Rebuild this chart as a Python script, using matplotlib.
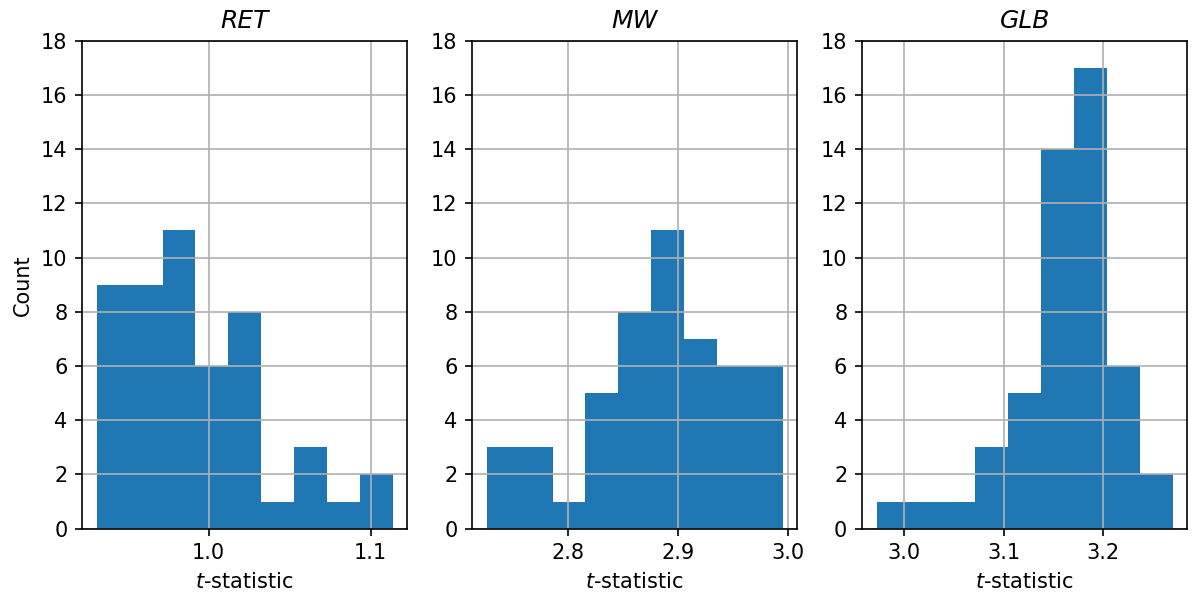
import numpy as np
import matplotlib
matplotlib.use("Agg")
from matplotlib import pyplot as plt

# histogram counts (9 bins each, 50 values per panel)
names = ["RET", "MW", "GLB"]
ret_counts = [9, 9, 11, 6, 8, 1, 3, 1, 2]
mw_counts = [3, 3, 1, 5, 8, 11, 7, 6, 6]
glb_counts = [1, 1, 1, 3, 5, 14, 17, 6, 2]
# lowest and highest value of each sample (range of the bins)
ret_range = (0.9309, 1.1136)
mw_range = (2.7258, 2.9949)
glb_range = (2.9722, 3.2702)
ret_ticks = [1.0, 1.1]

panels = [(ret_counts, ret_range), (mw_counts, mw_range), (glb_counts, glb_range)]

fig = plt.figure(figsize=(1194 / 150, 599 / 150), dpi=150)
lefts = [0.0687, 0.3953, 0.7219]
axes = [fig.add_axes([l, 0.1174, 0.2725, 0.8146]) for l in lefts]

for ax, name, (counts, rng) in zip(axes, names, panels):
    edges = np.linspace(rng[0], rng[1], len(counts) + 1)
    ax.hist(edges[:-1], bins=edges, weights=counts, color='#1f77b4')
    ax.grid(True)
    ax.set_ylim(0, 18)
    ax.set_yticks(range(0, 19, 2))
    ax.set_title(name, fontsize=12, style='italic')
    ax.set_xlabel('$t$-statistic')

axes[0].set_xticks(ret_ticks)
axes[0].set_ylabel('Count')

plt.savefig('out.png', dpi=150)
